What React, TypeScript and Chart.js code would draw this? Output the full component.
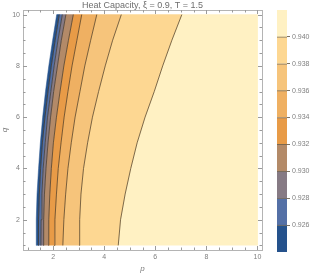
import React, { useEffect, useRef } from "react";
import { Chart, registerables } from "chart.js";

Chart.register(...registerables);
Chart.defaults.font.family = "'Liberation Sans', Arial, sans-serif";

// ---- data ----
const qValues = [1, 2, 3, 4, 5, 6, 7, 8, 9, 10];
// left edge of the plotted domain
const pEdge = [1.33, 1.34, 1.37, 1.43, 1.5, 1.59, 1.7, 1.83, 1.98, 2.14];
// contour lines (p at each q)
const p0926 = [1.42, 1.43, 1.46, 1.51, 1.58, 1.68, 1.8, 1.93, 2.08, 2.24];
const p0928 = [1.52, 1.53, 1.56, 1.61, 1.69, 1.78, 1.91, 2.04, 2.19, 2.36];
const p0930 = [1.62, 1.63, 1.66, 1.72, 1.8, 1.9, 2.02, 2.17, 2.32, 2.5];
const p0932 = [1.82, 1.83, 1.87, 1.93, 2.01, 2.13, 2.27, 2.42, 2.6, 2.79];
const p0934 = [2.04, 2.07, 2.13, 2.2, 2.31, 2.43, 2.58, 2.74, 2.93, 3.12];
const p0936 = [2.38, 2.42, 2.49, 2.58, 2.71, 2.86, 3.05, 3.24, 3.47, 3.71];
const p0938 = [3.02, 3.04, 3.09, 3.19, 3.35, 3.54, 3.78, 4.04, 4.33, 4.67];
const p0940 = [4.55, 4.64, 4.82, 5.04, 5.29, 5.6, 5.96, 6.29, 6.65, 7.04];
const pMax = 10;

const contourLevels = [0.926, 0.928, 0.93, 0.932, 0.934, 0.936, 0.938, 0.94];
const bandLow = [0.924, 0.926, 0.928, 0.93, 0.932, 0.934, 0.936, 0.938, 0.94];
const bandHigh = [0.926, 0.928, 0.93, 0.932, 0.934, 0.936, 0.938, 0.94, 0.942];
const bandColors = [
  "#25528c",
  "#5470a6",
  "#867a84",
  "#b38a68",
  "#e89b47",
  "#efb062",
  "#f6c47b",
  "#fdd792",
  "#fff1c3",
];

const xMajorTicks = [2, 4, 6, 8, 10];
const yMajorTicks = [2, 4, 6, 8, 10];
const minorTicks = [1, 1.5, 2.5, 3, 3.5, 4.5, 5, 5.5, 6.5, 7, 7.5, 8.5, 9, 9.5];

const titleText = "Heat Capacity, \u03be = 0.9, T = 1.5";
const xTitle = "p";
const yTitle = "q";

// ---- styles ----
const axisMin = 0.82;
const axisMax = 10.18;
const frameColor = "#b4b4b4";
const tickColor = "#9a9a9a";
const labelColor = "#808080";
const contourColor = "rgba(70,55,35,0.7)";

const boundaries = [pEdge, p0926, p0928, p0930, p0932, p0934, p0936, p0938, p0940];

function pts(ps: number[]) {
  return ps.map((p, i) => ({ x: p, y: qValues[i] }));
}

const frameTicks = {
  id: "frameTicks",
  afterDatasetsDraw(chart: any) {
    const { ctx, chartArea: a, scales } = chart;
    const xs = scales.x;
    const ys = scales.y;
    ctx.save();
    ctx.strokeStyle = tickColor;
    ctx.lineWidth = 1;
    const drawX = (vals: number[], len: number) => {
      vals.forEach((v) => {
        const px = Math.round(xs.getPixelForValue(v)) + 0.5;
        ctx.beginPath();
        ctx.moveTo(px, a.bottom);
        ctx.lineTo(px, a.bottom - len);
        ctx.moveTo(px, a.top);
        ctx.lineTo(px, a.top + len);
        ctx.stroke();
      });
    };
    const drawY = (vals: number[], len: number) => {
      vals.forEach((v) => {
        const py = Math.round(ys.getPixelForValue(v)) + 0.5;
        ctx.beginPath();
        ctx.moveTo(a.left, py);
        ctx.lineTo(a.left + len, py);
        ctx.moveTo(a.right, py);
        ctx.lineTo(a.right - len, py);
        ctx.stroke();
      });
    };
    drawX(xMajorTicks, 4);
    drawX(minorTicks, 2.5);
    drawY(yMajorTicks, 4);
    drawY(minorTicks, 2.5);
    ctx.restore();
  },
};

export default function App() {
  const mainRef = useRef<HTMLCanvasElement>(null);
  const barRef = useRef<HTMLCanvasElement>(null);

  useEffect(() => {
    const regions = boundaries.map((b, k) => {
      const left = pts(b);
      const right =
        k < boundaries.length - 1
          ? pts(boundaries[k + 1])
          : qValues.map((q) => ({ x: pMax, y: q }));
      return {
        data: [...left, ...right.reverse()],
        backgroundColor: bandColors[k],
        borderColor: bandColors[k],
        borderWidth: 0.5,
        fill: "shape",
        pointRadius: 0,
        tension: 0,
        order: 2,
      };
    });
    const lines = boundaries.slice(1).map((b) => ({
      data: pts(b),
      borderColor: contourColor,
      borderWidth: 1,
      fill: false,
      pointRadius: 0,
      tension: 0,
      order: 1,
    }));

    const main = new Chart(mainRef.current!, {
      type: "line",
      data: { datasets: [...regions, ...lines] as any },
      options: {
        animation: false,
        responsive: false,
        devicePixelRatio: 1,
        events: [],
        layout: { padding: 0 },
        plugins: { legend: { display: false }, tooltip: { enabled: false } },
        scales: {
          x: {
            type: "linear",
            position: "bottom",
            min: axisMin,
            max: axisMax,
            afterBuildTicks: (s: any) => {
              s.ticks = xMajorTicks.map((v) => ({ value: v }));
            },
            afterFit: (s: any) => {
              s.height = 24;
            },
            ticks: {
              color: labelColor,
              font: { size: 7 },
              padding: 3,
              maxRotation: 0,
              autoSkip: false,
              callback: (v: any) => String(v),
            },
            grid: { display: true, drawOnChartArea: false, drawTicks: false },
            border: { display: true, color: frameColor, width: 1 },
            title: {
              display: true,
              text: xTitle,
              color: labelColor,
              font: { size: 8, style: "italic" },
              padding: 0,
            },
          },
          x2: {
            type: "linear",
            position: "top",
            min: axisMin,
            max: axisMax,
            afterFit: (s: any) => {
              s.height = 10;
            },
            ticks: { display: false },
            grid: { display: true, drawOnChartArea: false, drawTicks: false },
            border: { display: true, color: frameColor, width: 1 },
            title: {
              display: true,
              text: titleText,
              color: "#6e6e6e",
              font: { size: 9 },
              padding: 0,
            },
          },
          y: {
            type: "linear",
            position: "left",
            min: axisMin,
            max: axisMax,
            afterBuildTicks: (s: any) => {
              s.ticks = yMajorTicks.map((v) => ({ value: v }));
            },
            afterFit: (s: any) => {
              s.width = 23;
            },
            ticks: {
              color: labelColor,
              font: { size: 7 },
              padding: 3,
              autoSkip: false,
              callback: (v: any) => String(v),
            },
            grid: { display: true, drawOnChartArea: false, drawTicks: false },
            border: { display: true, color: frameColor, width: 1 },
            title: {
              display: true,
              text: yTitle,
              color: labelColor,
              font: { size: 8, style: "italic" },
              padding: { top: 0, bottom: 0, y: 0 },
            },
          },
          y2: {
            type: "linear",
            position: "right",
            min: axisMin,
            max: axisMax,
            afterFit: (s: any) => {
              s.width = 53;
            },
            ticks: { display: false },
            grid: { display: true, drawOnChartArea: false, drawTicks: false },
            border: { display: true, color: frameColor, width: 1 },
          },
        },
      } as any,
      plugins: [frameTicks],
    });

    const bar = new Chart(barRef.current!, {
      type: "bar",
      data: {
        labels: [""],
        datasets: bandLow.map((lo, i) => ({
          data: [[lo, bandHigh[i]]],
          backgroundColor: bandColors[i],
          borderColor: contourColor,
          borderWidth: i < bandLow.length - 1 ? { top: 1, right: 0, bottom: 0, left: 0 } : 0,
          borderSkipped: false,
          grouped: false,
          barPercentage: 1,
          categoryPercentage: 1,
        })) as any,
      },
      options: {
        animation: false,
        responsive: false,
        devicePixelRatio: 1,
        events: [],
        layout: { padding: { left: 277, top: 10, bottom: 22, right: 0 } },
        plugins: { legend: { display: false }, tooltip: { enabled: false } },
        scales: {
          x: { display: false },
          y: {
            position: "right",
            min: 0.924,
            max: 0.942,
            afterBuildTicks: (s: any) => {
              s.ticks = contourLevels.map((v) => ({ value: v }));
            },
            afterFit: (s: any) => {
              s.width = 28;
            },
            ticks: {
              color: labelColor,
              font: { size: 7 },
              padding: 2,
              autoSkip: false,
              callback: (v: any) => Number(v).toFixed(3),
            },
            grid: {
              display: true,
              drawOnChartArea: false,
              drawTicks: true,
              tickLength: 3,
              tickColor: contourColor,
            },
            border: { display: false },
          },
        },
      } as any,
    });

    return () => {
      main.destroy();
      bar.destroy();
    };
  }, []);

  return (
    <div style={{ position: "fixed", left: 0, top: 0, width: 315, height: 274, background: "#fff" }}>
      <canvas
        ref={mainRef}
        width={315}
        height={274}
        style={{ position: "absolute", left: 0, top: 0, width: 315, height: 274 }}
      />
      <canvas
        ref={barRef}
        width={315}
        height={274}
        style={{ position: "absolute", left: 0, top: 0, width: 315, height: 274 }}
      />
    </div>
  );
}
